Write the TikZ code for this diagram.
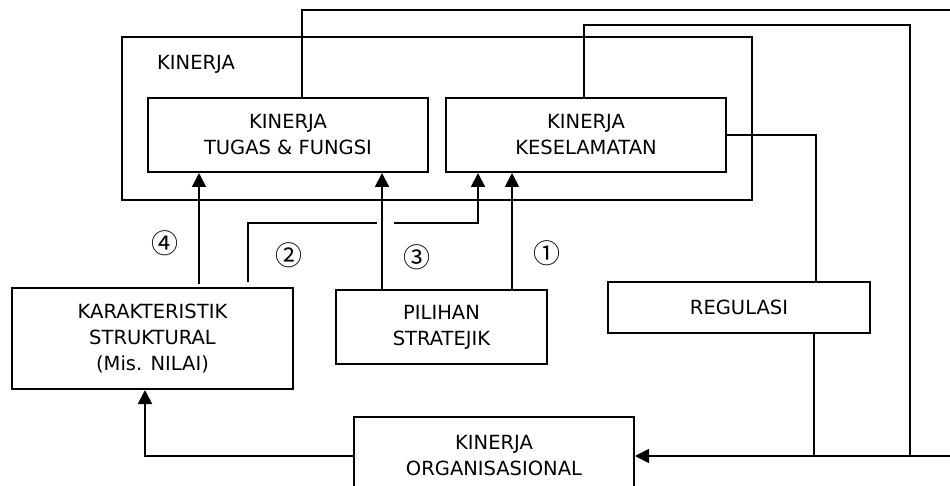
\documentclass[tikz,border=0pt]{standalone}
\usepackage{fontspec}
\setmainfont{DejaVu Sans}
\newfontfamily\circfont{Noto Sans CJK JP}
\usetikzlibrary{arrows.meta,calc}
\begin{document}
\begin{tikzpicture}[x=1pt,y=-1pt,
  box/.style={draw, line width=2pt, align=center, inner sep=0pt, font=\fontsize{19.5}{26}\selectfont},
  txt/.style={inner sep=0pt, font=\fontsize{19.5}{26}\selectfont},
  conn/.style={line width=1.9pt},
  thinconn/.style={line width=1.5pt},
  arr/.style={conn, -{Triangle[length=14pt,width=14pt]}},
  num/.style={inner sep=0pt, font=\circfont\fontsize{27}{27}\selectfont}]
\clip (0,0) rectangle (950,486);
\fill[white] (0,0) rectangle (950,486);

% nodes
\node[box, minimum width=630pt, minimum height=163pt] (kin) at (437,118.5) {};
\node[txt, anchor=west] (kinlbl) at (157,64) {KINERJA};
\node[box, minimum width=280pt, minimum height=74pt] (tf) at (288,135) {KINERJA\\TUGAS \& FUNGSI};
\node[box, minimum width=280pt, minimum height=74pt] (kes) at (586,135) {KINERJA\\KESELAMATAN};
\node[box, minimum width=281pt, minimum height=101pt] (kar) at (152.5,338.5) {KARAKTERISTIK\\STRUKTURAL\\(Mis. NILAI)};
\node[box, minimum width=211pt, minimum height=74pt] (pil) at (441.5,327) {PILIHAN\\STRATEJIK};
\node[box, minimum width=262pt, minimum height=51pt] (reg) at (739,307.5) {REGULASI};
\node[box, minimum width=280pt, minimum height=78pt] (org) at (494,456) {KINERJA\\ORGANISASIONAL};

% circled numbers
\node[num] (n4) at (165,243) {④};
\node[num] (n2) at (289,255) {②};
\node[num] (n3) at (417,257) {③};
\node[num] (n1) at (547,253) {①};

% feedback loops to organisational performance
\draw[arr] ([xshift=14pt]tf.north) |- (955,10) |- (org.east);
\coordinate (c2) at (910,25);
\draw[thinconn] ([xshift=-2pt]kes.north) |- (c2) -- (c2 |- org.east);
\draw[thinconn] (kes.east) -| ([xshift=77pt]reg.north);
\coordinate (r1) at ([xshift=75pt]reg.south);
\draw[thinconn] (r1) -- (r1 |- org.east);

% organisational performance to structural characteristics
\draw[arr] (org.west) -| ([xshift=-7.5pt]kar.south);

% arrows into performance
\coordinate (a4) at ([xshift=46.5pt,yshift=3pt]kar.north);
\draw[arr] (a4) -- (a4 |- tf.south);
\coordinate (a3) at ([xshift=-59.5pt]pil.north);
\draw[arr] (a3) -- (a3 |- tf.south);
\coordinate (a1) at ([xshift=70.5pt]pil.north);
\draw[arr] (a1) -- (a1 |- kes.south);
\coordinate (a2) at ([xshift=95.5pt,yshift=5pt]kar.north);
\coordinate (b2) at (478,223);
\draw[conn] (a2) |- (377,223);
\draw[arr] (394,223) -- (b2) -- (b2 |- kes.south);
\end{tikzpicture}
\end{document}
